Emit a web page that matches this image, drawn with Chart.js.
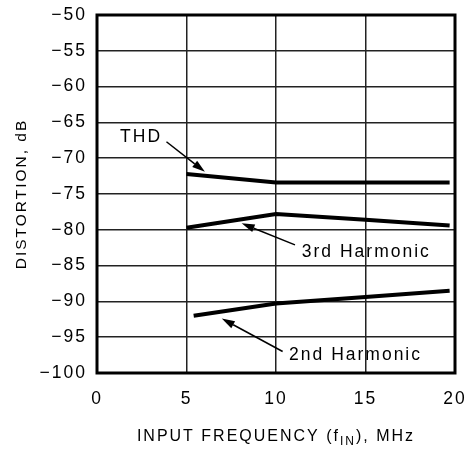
<!DOCTYPE html>
<html>
<head>
<meta charset="utf-8">
<script src="https://cdn.jsdelivr.net/npm/chart.js@4"></script>
<style>
  html, body { margin: 0; padding: 0; background: #fff; }
  #wrap { width: 474px; height: 458px; position: relative; }
</style>
</head>
<body>
<div id="wrap"><canvas id="c" width="474" height="458"></canvas></div>
<script>
// Distortion vs. input frequency
const thdX = [5, 10, 19.7];
const thdY = [-72.2, -73.4, -73.4];
const h3X = [5, 10, 15, 19.7];
const h3Y = [-79.7, -77.8, -78.6, -79.4];
const h2X = [5.4, 10, 15, 19.7];
const h2Y = [-92.0, -90.3, -89.4, -88.5];
const xTicks = [0, 5, 10, 15, 20];
const yTicks = [-50, -55, -60, -65, -70, -75, -80, -85, -90, -95, -100];

// Curve labels with leader arrows (data units)
const callouts = [
  { text: 'THD', tx: 2.46, ty: -67.1, align: 'center', ax0: 3.88, ay0: -67.7, ax1: 6.03, ay1: -71.9 },
  { text: '3rd Harmonic', tx: 11.44, ty: -83.06, align: 'left', ax0: 11.06, ay0: -82.1, ax1: 8.08, ay1: -79.1 },
  { text: '2nd Harmonic', tx: 10.73, ty: -97.5, align: 'left', ax0: 10.37, ay0: -97.0, ax1: 6.97, ay1: -92.4 }
];

const FONT = '"Liberation Sans", Arial, sans-serif';
const SPACING = '2px';

function pts(xs, ys) { return xs.map((x, i) => ({ x: x, y: ys[i] })); }

const lineStyle = { borderColor: '#000', borderWidth: 4, pointRadius: 0, fill: false, tension: 0, borderCapStyle: 'butt' };

const spacing = {
  id: 'spacing',
  beforeDraw(chart) { chart.ctx.letterSpacing = SPACING; }
};

const annotate = {
  id: 'annotate',
  afterDatasetsDraw(chart) {
    const ctx = chart.ctx;
    const xs = chart.scales.x, ys = chart.scales.y;
    ctx.save();
    ctx.letterSpacing = SPACING;
    ctx.fillStyle = '#000';
    ctx.strokeStyle = '#000';
    ctx.font = '17.5px ' + FONT;
    ctx.textBaseline = 'middle';
    callouts.forEach(c => {
      ctx.textAlign = c.align;
      ctx.fillText(c.text, xs.getPixelForValue(c.tx), ys.getPixelForValue(c.ty));
      const x0 = xs.getPixelForValue(c.ax0), y0 = ys.getPixelForValue(c.ay0);
      const x1 = xs.getPixelForValue(c.ax1), y1 = ys.getPixelForValue(c.ay1);
      const ang = Math.atan2(y1 - y0, x1 - x0);
      const L = 13, W = 4;
      const bx = x1 - L * Math.cos(ang), by = y1 - L * Math.sin(ang);
      ctx.lineWidth = 1.5;
      ctx.beginPath(); ctx.moveTo(x0, y0); ctx.lineTo(bx, by); ctx.stroke();
      ctx.beginPath();
      ctx.moveTo(x1, y1);
      ctx.lineTo(bx + W * Math.sin(ang), by - W * Math.cos(ang));
      ctx.lineTo(bx - W * Math.sin(ang), by + W * Math.cos(ang));
      ctx.closePath(); ctx.fill();
    });

    // axis titles
    const area = chart.chartArea;
    ctx.font = '15.5px ' + FONT;
    ctx.textAlign = 'center';
    ctx.save();
    ctx.translate(22, 194);
    ctx.rotate(-Math.PI / 2);
    ctx.fillText('DISTORTION, dB', 0, 0);
    ctx.restore();

    // x title with subscript
    const parts = [
      { t: 'INPUT FREQUENCY (f', size: 16, dy: 0 },
      { t: 'IN', size: 12, dy: 5 },
      { t: '), MHz', size: 16, dy: 0 }
    ];
    let total = 0;
    parts.forEach(p => { ctx.font = p.size + 'px ' + FONT; p.w = ctx.measureText(p.t).width; total += p.w; });
    let x = 276 - total / 2;
    const yT = 437;
    ctx.textAlign = 'left';
    parts.forEach(p => {
      ctx.font = p.size + 'px ' + FONT;
      ctx.fillText(p.t, x, yT + p.dy);
      x += p.w;
    });

    // plot frame
    ctx.lineWidth = 3;
    ctx.strokeRect(area.left, area.top, area.right - area.left, area.bottom - area.top);
    ctx.restore();
  }
};

new Chart(document.getElementById('c'), {
  type: 'line',
  data: {
    datasets: [
      Object.assign({ label: 'THD', data: pts(thdX, thdY) }, lineStyle),
      Object.assign({ label: '3rd Harmonic', data: pts(h3X, h3Y) }, lineStyle),
      Object.assign({ label: '2nd Harmonic', data: pts(h2X, h2Y) }, lineStyle)
    ]
  },
  options: {
    responsive: false,
    animation: false,
    devicePixelRatio: 1,
    layout: { padding: { top: 15, right: 19, left: 0, bottom: 0 } },
    plugins: { legend: { display: false }, tooltip: { enabled: false } },
    scales: {
      x: {
        type: 'linear', min: 0, max: 20,
        afterBuildTicks(s) { s.ticks = xTicks.map(v => ({ value: v })); },
        afterFit(s) { s.height = 85; s.paddingLeft = 0; s.paddingRight = 0; },
        grid: { color: '#222', lineWidth: 1.5, drawTicks: false },
        border: { display: false },
        ticks: { color: '#000', font: { family: FONT, size: 17.5 }, padding: 16, maxRotation: 0 }
      },
      y: {
        type: 'linear', min: -100, max: -50,
        afterBuildTicks(s) { s.ticks = yTicks.map(v => ({ value: v })); },
        afterFit(s) { s.width = 97; s.paddingTop = 0; s.paddingBottom = 0; },
        grid: { color: '#222', lineWidth: 1.5, drawTicks: false },
        border: { display: false },
        ticks: {
          color: '#000', font: { family: FONT, size: 17.5 }, padding: 10,
          callback: v => String(v).replace('-', '\u2212')
        }
      }
    }
  },
  plugins: [spacing, annotate]
});
</script>
</body>
</html>
